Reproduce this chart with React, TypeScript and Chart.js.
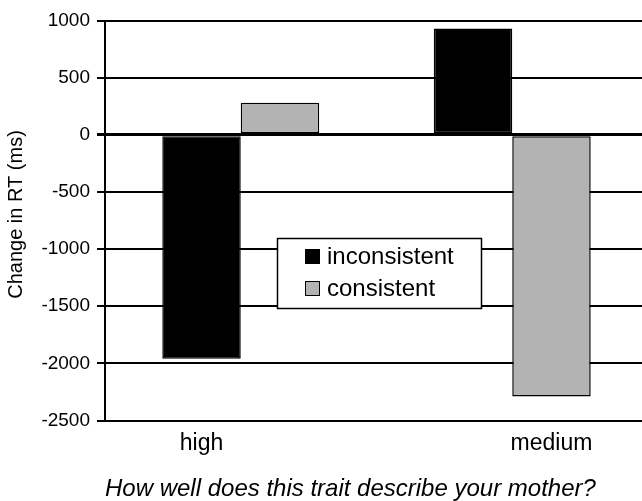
import React, { useEffect, useRef } from "react";
import { Chart, registerables } from "chart.js";

Chart.register(...registerables);

const categories = ["high", "medium"];
const seriesNames = ["inconsistent", "consistent"];
const inconsistentValues = [-1960, 930];
const consistentValues = [280, -2290];
const yTickValues = [1000, 500, 0, -500, -1000, -1500, -2000, -2500];
const yTitle = "Change in RT (ms)";
const xTitle = "How well does this trait describe your mother?";
const seriesColors = ["#000000", "#b3b3b3"];
// category label sits under this dataset's bar
const labelUnderDataset = [0, 1];

const FONT = "'Liberation Sans', Arial, Helvetica, sans-serif";

const overlayPlugin = {
  id: "overlay",
  afterDraw(chart: any) {
    const ctx = chart.ctx as CanvasRenderingContext2D;
    const area = chart.chartArea;
    ctx.save();
    // y axis title
    ctx.save();
    ctx.translate(16, (area.top + area.bottom) / 2 - 6);
    ctx.rotate(-Math.PI / 2);
    ctx.font = `20px ${FONT}`;
    ctx.fillStyle = "#000";
    ctx.textAlign = "center";
    ctx.textBaseline = "middle";
    ctx.fillText(yTitle, 0, 0);
    ctx.restore();
    // category labels
    ctx.font = `23px ${FONT}`;
    ctx.fillStyle = "#000";
    ctx.textAlign = "center";
    ctx.textBaseline = "alphabetic";
    categories.forEach((c, i) => {
      const meta = chart.getDatasetMeta(labelUnderDataset[i]);
      const el = meta.data[i];
      ctx.fillText(c, el.x, area.bottom + 29.5);
    });
    // legend
    const bx = 277.5, by = 238.5, bw = 204, bh = 70;
    ctx.fillStyle = "#fff";
    ctx.fillRect(bx, by, bw, bh);
    ctx.lineWidth = 1.5;
    ctx.strokeStyle = "#000";
    ctx.strokeRect(bx, by, bw, bh);
    chart.data.datasets.forEach((ds: any, i: number) => {
      const rowY = by + 18 + i * 32;
      ctx.fillStyle = ds.backgroundColor;
      ctx.fillRect(305, rowY - 7.5, 15, 15);
      ctx.lineWidth = 1;
      ctx.strokeStyle = "#000";
      ctx.strokeRect(305.5, rowY - 7, 14, 14);
      ctx.fillStyle = "#000";
      ctx.textAlign = "left";
      ctx.textBaseline = "middle";
      ctx.font = `24px ${FONT}`;
      ctx.fillText(ds.label, 327, rowY + 0.5);
    });
    ctx.restore();
  },
};

export default function App() {
  const ref = useRef<HTMLCanvasElement | null>(null);
  useEffect(() => {
    if (!ref.current) return;
    const chart = new Chart(ref.current, {
      type: "bar",
      data: {
        labels: categories,
        datasets: [
          {
            label: seriesNames[0],
            data: inconsistentValues,
            backgroundColor: seriesColors[0],
            borderColor: "#000",
            borderWidth: 1.5,
            borderSkipped: false,
            barPercentage: 1,
            categoryPercentage: 0.578,
          },
          {
            label: seriesNames[1],
            data: consistentValues,
            backgroundColor: seriesColors[1],
            borderColor: "#000",
            borderWidth: 1.5,
            borderSkipped: false,
            barPercentage: 1,
            categoryPercentage: 0.578,
          },
        ],
      },
      options: {
        responsive: false,
        animation: false,
        devicePixelRatio: 1,
        layout: { padding: { top: 20.5, right: 12, left: 0, bottom: 0 } },
        plugins: { legend: { display: false }, tooltip: { enabled: false } },
        scales: {
          x: {
            ticks: { display: false },
            grid: { display: false },
            border: { display: true, color: "#000", width: 2 },
            title: {
              display: true,
              text: xTitle,
              align: "start",
              color: "#000",
              font: { family: FONT, size: 24, style: "italic", lineHeight: 1 },
              padding: { top: 0, bottom: 0 },
            },
            afterFit: (axis: any) => {
              axis.height = 80.5;
            },
          },
          y: {
            min: -2500,
            max: 1000,
            afterBuildTicks: (axis: any) => {
              axis.ticks = yTickValues.map((v) => ({ value: v }));
            },
            ticks: {
              color: "#000",
              padding: 7,
              font: { family: FONT, size: 19 },
              callback: (v: any) => String(v),
            },
            grid: {
              color: "#000",
              lineWidth: (c: any) => (c.tick && c.tick.value === 0 ? 3 : 2),
              tickLength: 8,
            },
            border: { display: true, color: "#000", width: 2 },
            title: { display: false },
            afterFit: (axis: any) => {
              axis.width = 105;
            },
          },
        },
      },
      plugins: [overlayPlugin],
    } as any);
    return () => chart.destroy();
  }, []);
  return (
    <div
      style={{
        position: "fixed",
        left: 0,
        top: 0,
        width: 642,
        height: 501,
        overflow: "hidden",
        background: "#fff",
      }}
    >
      <canvas ref={ref} width={660} height={501} style={{ display: "block" }} />
    </div>
  );
}
